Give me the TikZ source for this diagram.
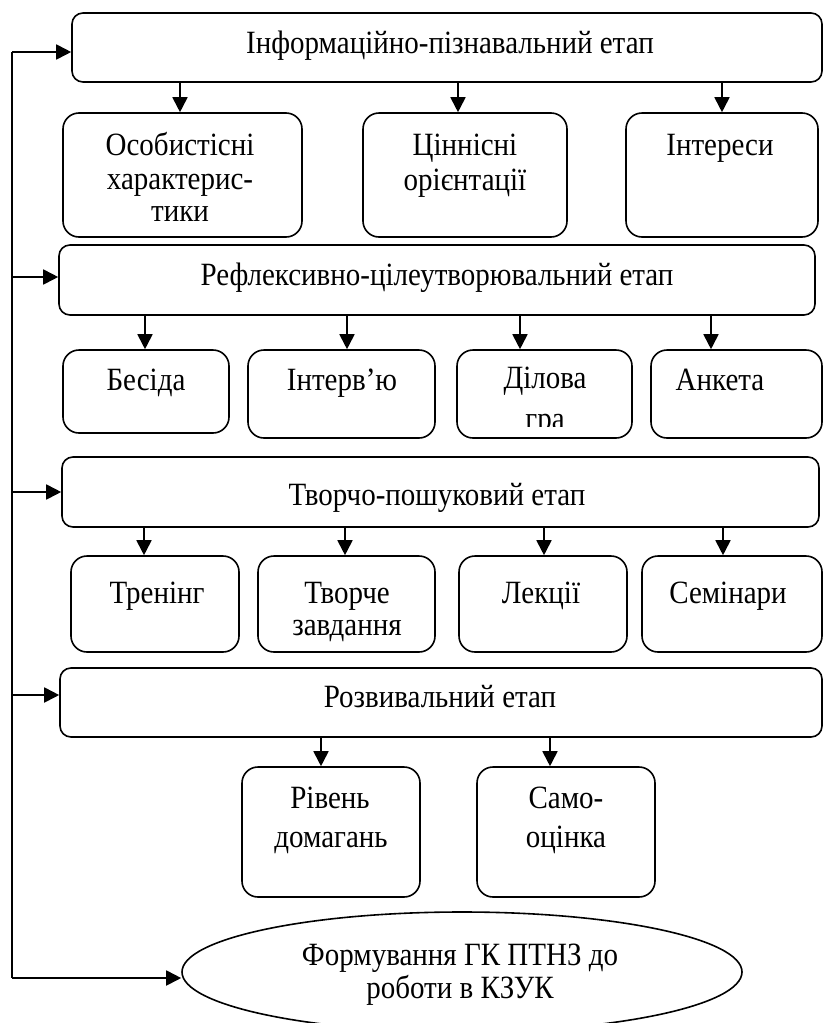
\documentclass[tikz,border=0pt]{standalone}
\usepackage{fontspec}
\setmainfont{Liberation Serif}
\usetikzlibrary{arrows.meta,shapes.geometric}
\newcommand\vs[1]{\scalebox{1}[1.12]{#1}}
\begin{document}
\begin{tikzpicture}[x=1pt,y=-1pt,
  hdr/.style={draw, line width=1.6pt, rounded corners=11pt, inner sep=0pt},
  sub/.style={draw, line width=1.6pt, rounded corners=16pt, inner sep=0pt},
  oval/.style={draw, ellipse, line width=1.6pt, inner sep=0pt},
  txt/.style={font=\fontsize{29}{33}\selectfont, inner sep=0pt, anchor=base},
  conn/.style={line width=1.8pt},
  arr/.style={line width=1.8pt, -{Triangle[length=15pt,width=15pt]}}
]
\useasboundingbox (0,0) rectangle (823,1023);

% boxes
\node[hdr, minimum width=750pt, minimum height=69pt] (h1) at (447,47.5) {};
\node[sub, minimum width=239pt, minimum height=124pt] (b11) at (182.5,175) {};
\node[sub, minimum width=204pt, minimum height=124pt] (b12) at (465,175) {};
\node[sub, minimum width=192pt, minimum height=124pt] (b13) at (722,175) {};

\node[hdr, minimum width=756pt, minimum height=70pt] (h2) at (437,280) {};
\node[sub, minimum width=166pt, minimum height=83pt] (b21) at (146,391.5) {};
\node[sub, minimum width=187pt, minimum height=88pt] (b22) at (341.5,394) {};
\node[sub, minimum width=175pt, minimum height=88pt] (b23) at (544.5,394) {};
\node[sub, minimum width=171pt, minimum height=88pt] (b24) at (736.5,394) {};

\node[hdr, minimum width=757pt, minimum height=70pt] (h3) at (440.5,492) {};
\node[sub, minimum width=168pt, minimum height=96pt] (b31) at (155,604) {};
\node[sub, minimum width=177pt, minimum height=96pt] (b32) at (346.5,604) {};
\node[sub, minimum width=168pt, minimum height=96pt] (b33) at (543,604) {};
\node[sub, minimum width=180pt, minimum height=96pt] (b34) at (732,604) {};

\node[hdr, minimum width=762pt, minimum height=69pt] (h4) at (441,702.5) {};
\node[sub, minimum width=178pt, minimum height=130pt] (b41) at (331,832) {};
\node[sub, minimum width=178pt, minimum height=130pt] (b42) at (566,832) {};

\node[oval, minimum width=560pt, minimum height=120pt] (ell) at (462,972) {};

% texts
\node[txt] (t1) at (450,53) {\vs{Інформаційно-пізнавальний етап}};
\node[txt] (t11a) at (180,155) {\vs{Особистісні}};
\node[txt] (t11b) at (180,189) {\vs{характерис-}};
\node[txt] (t11c) at (180,221) {\vs{тики}};
\node[txt] (t12a) at (465,155) {\vs{Ціннісні}};
\node[txt] (t12b) at (465,190) {\vs{орієнтації}};
\node[txt] (t13) at (720,155) {\vs{Інтереси}};

\node[txt] (t2) at (437,285) {\vs{Рефлексивно-цілеутворювальний етап}};
\node[txt] (t21) at (146,390) {\vs{Бесіда}};
\node[txt] (t22) at (342,390) {\vs{Інтерв’ю}};
\node[txt] (t23a) at (545,388) {\vs{Ділова}};
\begin{scope}
  \clip (457,350) rectangle (632,426);
  \node[txt] (t23b) at (545,429) {\vs{гра}};
\end{scope}
\node[txt] (t24) at (720,390) {\vs{Анкета}};

\node[txt] (t3) at (437,505) {\vs{Творчо-пошуковий етап}};
\node[txt] (t31) at (157,603) {\vs{Тренінг}};
\node[txt] (t32a) at (347,603) {\vs{Творче}};
\node[txt] (t32b) at (347,635) {\vs{завдання}};
\node[txt] (t33) at (541,603) {\vs{Лекції}};
\node[txt] (t34) at (728,603) {\vs{Семінари}};

\node[txt] (t4) at (440,707) {\vs{Розвивальний етап}};
\node[txt] (t41a) at (330,808) {\vs{Рівень}};
\node[txt] (t41b) at (331,847) {\vs{домагань}};
\node[txt] (t42a) at (566,808) {\vs{Само-}};
\node[txt] (t42b) at (566,847) {\vs{оцінка}};

\node[txt] (t5a) at (460,965) {\vs{Формування ГК ПТНЗ до}};
\node[txt] (t5b) at (460,998) {\vs{роботи в КЗУК}};

% arrow x positions
\coordinate (x11) at (180,0);
\coordinate (x12) at (458,0);
\coordinate (x13) at (722,0);
\coordinate (x21) at (145,0);
\coordinate (x22) at (347,0);
\coordinate (x23) at (520,0);
\coordinate (x24) at (711,0);
\coordinate (x31) at (144,0);
\coordinate (x32) at (345,0);
\coordinate (x33) at (544,0);
\coordinate (x34) at (723,0);
\coordinate (x41) at (321,0);
\coordinate (x42) at (550,0);

\draw[arr] (h1.south -| x11) -- (b11.north -| x11);
\draw[arr] (h1.south -| x12) -- (b12.north -| x12);
\draw[arr] (h1.south -| x13) -- (b13.north -| x13);
\draw[arr] (h2.south -| x21) -- (b21.north -| x21);
\draw[arr] (h2.south -| x22) -- (b22.north -| x22);
\draw[arr] (h2.south -| x23) -- (b23.north -| x23);
\draw[arr] (h2.south -| x24) -- (b24.north -| x24);
\draw[arr] (h3.south -| x31) -- (b31.north -| x31);
\draw[arr] (h3.south -| x32) -- (b32.north -| x32);
\draw[arr] (h3.south -| x33) -- (b33.north -| x33);
\draw[arr] (h3.south -| x34) -- (b34.north -| x34);
\draw[arr] (h4.south -| x41) -- (b41.north -| x41);
\draw[arr] (h4.south -| x42) -- (b42.north -| x42);

% feedback line on the left
\coordinate (L1) at (12,52);
\coordinate (L2) at (12,277);
\coordinate (L3) at (12,492);
\coordinate (L4) at (12,695);
\coordinate (L5) at (12,978);
\draw[conn] (L1) -- (L5);
\draw[arr] (L1) -- (L1 -| h1.west);
\draw[arr] (L2) -- (L2 -| h2.west);
\draw[arr] (L3) -- (L3 -| h3.west);
\draw[arr] (L4) -- (L4 -| h4.west);
\draw[arr] (L5) -- (L5 -| ell.west);
\end{tikzpicture}
\end{document}
